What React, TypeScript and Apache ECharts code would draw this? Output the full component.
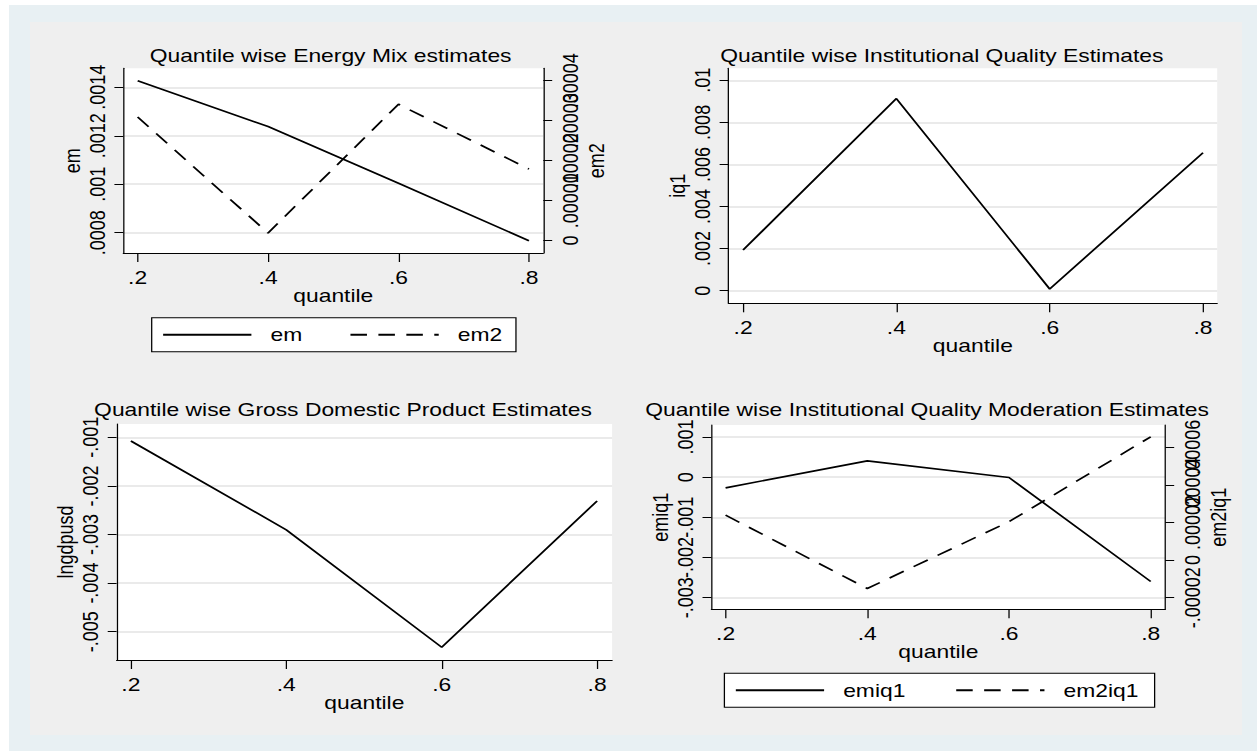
import React, { useEffect, useRef } from "react";
import * as echarts from "echarts";

// ---------- data ----------
const quantiles = [0.2, 0.4, 0.6, 0.8];
const em = [0.001427, 0.001238, 0.001004, 0.000767];
const em2 = [0.0000309, 0.0000019, 0.0000341, 0.0000179];
const iq1 = [0.00193, 0.00913, 0.00008, 0.00656];
const lngdpusd = [-0.001076, -0.002903, -0.00532, -0.002309];
const emiq1 = [-0.000266, 0.000405, -0.0000075, -0.002597];
const em2iq1 = [0.0000239, -0.0000151, 0.0000204, 0.0000656];

// ---------- tick values ----------
const xTicks = [0.2, 0.4, 0.6, 0.8];
const emTicks = [0.0008, 0.001, 0.0012, 0.0014];
const em2Ticks = [0, 0.00001, 0.00002, 0.00003, 0.00004];
const iq1Ticks = [0, 0.002, 0.004, 0.006, 0.008, 0.01];
const lngdpTicks = [-0.005, -0.004, -0.003, -0.002, -0.001];
const emiq1Ticks = [-0.003, -0.002, -0.001, 0, 0.001];
const em2iq1Ticks = [-0.00002, 0, 0.00002, 0.00004, 0.00006];

const panelTitles = [
  "Quantile wise Energy Mix estimates",
  "Quantile wise Institutional Quality Estimates",
  "Quantile wise Gross Domestic Product Estimates",
  "Quantile wise Institutional Quality Moderation Estimates",
];
const xName = "quantile";

// ---------- layout helpers ----------
const S = 1.27; // horizontal stretch of the reference image
const vx = (x: number) => x / S;
const FONT = "Liberation Sans, Arial, Helvetica, sans-serif";
const FS = 18;

const fmtNum = (v: number) => {
  if (Math.abs(v) < 1e-12) return "0";
  const s = parseFloat(v.toPrecision(6)).toString();
  return s.replace(/^(-?)0\./, "$1.");
};

// labels only for real tick values; the padding values at the axis ends stay blank
const makeFmt = (ticks: number[]) => (v: number) => {
  const hit = ticks.some((t) => Math.abs(t - v) <= Math.abs(t) * 1e-6 + 1e-12);
  return hit ? fmtNum(v) : "";
};

const pairs = (vals: number[]) => quantiles.map((q, i) => [q, vals[i]]);

function makeX(gridIndex: number, min: number, max: number) {
  return {
    type: "value",
    gridIndex,
    min,
    max,
    name: xName,
    nameLocation: "middle",
    nameGap: 33,
    nameMoveOverlap: false,
    nameTextStyle: { fontSize: FS, color: "#000", fontFamily: FONT },
    axisLine: { show: true, onZero: false, lineStyle: { color: "#000", width: 1 } },
    axisTick: { show: true, length: 9, customValues: xTicks, lineStyle: { color: "#000", width: 1 } },
    axisLabel: {
      customValues: [min, ...xTicks, max],
      formatter: makeFmt(xTicks),
      fontSize: FS,
      color: "#000",
      fontFamily: FONT,
      margin: 15,
      showMinLabel: false,
      showMaxLabel: false,
      hideOverlap: false,
    },
    splitLine: { show: false },
  };
}

function makeY(
  gridIndex: number,
  min: number,
  max: number,
  ticks: number[],
  name: string,
  position: "left" | "right"
) {
  return {
    type: "value",
    gridIndex,
    min,
    max,
    position,
    name,
    nameLocation: "middle",
    nameGap: 32,
    nameRotate: 90,
    nameMoveOverlap: false,
    nameTextStyle: { fontSize: FS, color: "#000", fontFamily: FONT },
    axisLine: { show: true, onZero: false, lineStyle: { color: "#000", width: 1 } },
    axisTick: { show: true, length: 7, customValues: ticks, lineStyle: { color: "#000", width: 1 } },
    axisLabel: {
      customValues: [min, ...ticks, max],
      formatter: makeFmt(ticks),
      rotate: 90,
      margin: 12,
      fontSize: FS,
      color: "#000",
      fontFamily: FONT,
      hideOverlap: false,
      showMinLabel: false,
      showMaxLabel: false,
    },
    splitLine: { show: position === "left", lineStyle: { color: "#E3E3E3", width: 1.6 } },
  };
}

const solid = { color: "#000", width: 1.6, type: "solid" };
const dashed = { color: "#000", width: 1.6, type: [13, 9] };

function lineSeries(name: string, xi: number, yi: number, vals: number[], ls: any) {
  return {
    name,
    type: "line",
    xAxisIndex: xi,
    yAxisIndex: yi,
    data: pairs(vals),
    symbol: "none",
    showSymbol: false,
    silent: true,
    lineStyle: ls,
    itemStyle: { color: "#000" },
  };
}

function gridBox(l: number, t: number, r: number, b: number) {
  return {
    left: vx(l),
    top: t,
    width: vx(r - l),
    height: b - t,
    show: true,
    backgroundColor: "#ffffff",
    borderWidth: 0,
    containLabel: false,
    outerBoundsMode: "none",
  };
}

function titleText(text: string, cx: number, cy: number) {
  return {
    type: "text",
    silent: true,
    style: {
      text,
      x: vx(cx),
      y: cy,
      fill: "#000",
      font: `${FS}px ${FONT}`,
      fontSize: FS,
      fontFamily: FONT,
      align: "center",
      textAlign: "center",
      verticalAlign: "middle",
      textVerticalAlign: "middle",
    },
  };
}

function legendBox(names: string[], l: number, t: number, gap: number, padR: number) {
  return {
    data: names,
    orient: "horizontal",
    left: vx(l),
    top: t,
    itemWidth: 69.5,
    itemHeight: 16,
    itemGap: gap,
    padding: [8, padR, 8, 8],
    backgroundColor: "#ffffff",
    borderColor: "#000",
    borderWidth: 1,
    borderRadius: 0,
    selectedMode: false,
    itemStyle: { color: "rgba(0,0,0,0)", borderWidth: 0, opacity: 0 },
    textStyle: { fontSize: FS, color: "#000", fontFamily: FONT, padding: [0, 0, 0, 10] },
  };
}

const option: any = {
  animation: false,
  backgroundColor: "transparent",
  textStyle: { fontFamily: FONT },
  grid: [
    gridBox(123.3, 68.3, 543.3, 253),
    gridBox(728.5, 68.3, 1217.2, 303.3),
    gridBox(116.6, 424, 612.1, 660),
    gridBox(711.4, 425, 1165.3, 609.3),
  ],
  xAxis: [
    makeX(0, 0.178, 0.822),
    makeX(1, 0.181, 0.8185),
    makeX(2, 0.1816, 0.8193),
    makeX(3, 0.18, 0.8206),
  ],
  yAxis: [
    makeY(0, 0.0007162, 0.0014784, emTicks, "em", "left"),
    makeY(0, -0.0000031, 0.0000431, em2Ticks, "em2", "right"),
    makeY(1, -0.0006, 0.01057, iq1Ticks, "iq1", "left"),
    makeY(2, -0.005582, -0.000726, lngdpTicks, "lngdpusd", "left"),
    makeY(3, -0.003289, 0.0012987, emiq1Ticks, "emiq1", "left"),
    makeY(3, -0.00002617, 0.00007186, em2iq1Ticks, "em2iq1", "right"),
  ],
  legend: [
    legendBox(["em", "em2"], 151.7, 317.7, 37, 10.8),
    legendBox(["emiq1", "em2iq1"], 724.4, 673.3, 39, 12.7),
  ],
  graphic: [
    titleText(panelTitles[0], 330.6, 55),
    titleText(panelTitles[1], 941.8, 55),
    titleText(panelTitles[2], 343, 409.3),
    titleText(panelTitles[3], 927.1, 409.3),
  ],
  series: [
    lineSeries("em", 0, 0, em, solid),
    lineSeries("em2", 0, 1, em2, dashed),
    lineSeries("iq1", 1, 2, iq1, solid),
    lineSeries("lngdpusd", 2, 3, lngdpusd, solid),
    lineSeries("emiq1", 3, 4, emiq1, solid),
    lineSeries("em2iq1", 3, 5, em2iq1, dashed),
  ],
};

export default function App() {
  const ref = useRef<HTMLDivElement>(null);
  useEffect(() => {
    if (!ref.current) return;
    const chart = echarts.init(ref.current, null, { renderer: "svg" });
    chart.setOption(option);
    return () => chart.dispose();
  }, []);
  return (
    <div
      style={{
        position: "fixed",
        left: 0,
        top: 0,
        width: 1257,
        height: 751,
        background: "#ffffff",
        overflow: "hidden",
      }}
    >
      <div style={{ position: "absolute", left: 9, top: 5, right: 0, bottom: 0, background: "#E8F0F3" }} />
      <div style={{ position: "absolute", left: 30, top: 22, width: 1212, height: 713, background: "#EFEFEF" }} />
      <div
        ref={ref}
        style={{
          position: "absolute",
          left: 0,
          top: 0,
          width: 1257 / S,
          height: 751,
          transform: `scaleX(${S})`,
          transformOrigin: "0 0",
        }}
      />
    </div>
  );
}
